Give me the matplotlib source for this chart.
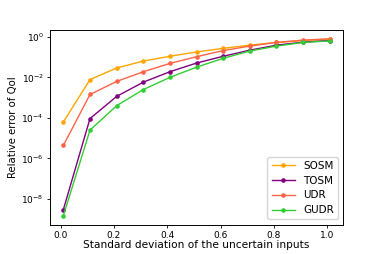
import numpy as np
import matplotlib
matplotlib.use("Agg")
import matplotlib.pyplot as plt

# standard deviation of the inputs
sigma = [0.01, 0.11, 0.21, 0.31, 0.41, 0.51, 0.61, 0.71, 0.81, 0.91, 1.01]

# relative error of QoI
sosm = [6.3e-5, 7.8e-3, 0.029, 0.064, 0.11, 0.18, 0.27, 0.39, 0.53, 0.66, 0.77]
tosm = [3.0e-9, 9.3e-5, 1.15e-3, 5.8e-3, 0.019, 0.051, 0.11, 0.22, 0.39, 0.55, 0.66]
udr = [4.4e-6, 1.44e-3, 6.3e-3, 0.019, 0.049, 0.105, 0.21, 0.35, 0.53, 0.69, 0.80]
gudr = [1.5e-9, 2.5e-5, 4.0e-4, 2.5e-3, 0.010, 0.032, 0.087, 0.20, 0.35, 0.53, 0.63]

plt.rcParams['font.size'] = 6.5

fig = plt.figure(figsize=(3.82, 2.54), dpi=100)
ax = fig.add_axes([0.131, 0.116, 0.767, 0.766])

kw = dict(marker='o', markersize=2.3, linewidth=1.0)
ax.plot(sigma, sosm, color='orange', label='SOSM', **kw)
ax.plot(sigma, tosm, color='purple', label='TOSM', **kw)
ax.plot(sigma, udr, color='tomato', label='UDR', **kw)
ax.plot(sigma, gudr, color='limegreen', label='GUDR', **kw)

ax.set_yscale('log')
ax.yaxis.set_minor_locator(matplotlib.ticker.NullLocator())
ax.set_xticks([0.0, 0.2, 0.4, 0.6, 0.8, 1.0])
ax.tick_params(length=2.5, width=0.6, pad=2)
for s in ax.spines.values():
    s.set_linewidth(0.7)

ax.set_xlabel("Standard deviation of the uncertain inputs", fontsize=7.6, labelpad=0)
ax.set_ylabel("Relative error of QoI", fontsize=7.3, labelpad=2)
ax.legend(loc='lower right', fontsize=7.5, handlelength=2.2, borderpad=0.4,
          labelspacing=0.45)

fig.savefig("out.png", dpi=100)
